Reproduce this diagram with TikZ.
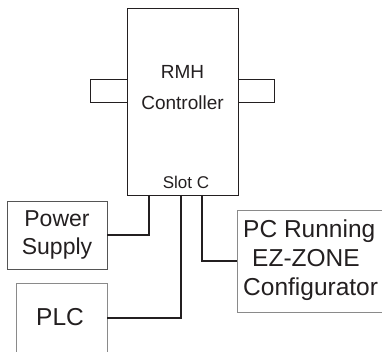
\documentclass[tikz,border=0pt]{standalone}
\usepackage{fontspec}
\setmainfont{Liberation Sans}
\definecolor{ink}{HTML}{231F20}
\definecolor{boxgray}{HTML}{8A8A8A}
\definecolor{boxdark}{HTML}{555555}
\begin{document}
\begin{tikzpicture}[x=1pt,y=-1pt,
  blk/.style={draw=ink,line width=0.9pt,inner sep=0pt,outer sep=0pt,anchor=north west},
  gbox/.style={draw=#1,line width=0.9pt,inner sep=0pt,outer sep=0pt,anchor=north west},
  wire/.style={draw=ink,line width=1.4pt},
  lbl/.style={text=ink,inner sep=0pt,align=center}]
\useasboundingbox (0,0) rectangle (382,352);
% controller and side tabs
\node[blk,minimum width=111pt,minimum height=187pt] (main) at (127,8) {};
\node[blk,minimum width=37pt,minimum height=23pt] (ltab) at (90,79) {};
\node[blk,minimum width=36pt,minimum height=23pt] (rtab) at (238,79) {};
\node[lbl,anchor=base,font=\fontsize{19}{31}\selectfont] (rmh) at (182.5,110) {RMH\\Controller};
\node[lbl,anchor=base,font=\fontsize{17}{20}\selectfont] (slot) at (186,189) {Slot C};
% peripheral boxes
\node[gbox=boxdark,minimum width=100pt,minimum height=68pt] (ps) at (7,201) {};
\node[lbl,font=\fontsize{23}{28}\selectfont] (pstxt) at (ps.center) {Power\\Supply};
\node[gbox=boxgray,minimum width=91pt,minimum height=70pt] (plc) at (16,283) {};
\node[lbl,anchor=base,font=\fontsize{24.5}{29}\selectfont] (plctxt) at (60,325) {PLC};
\node[gbox=boxgray,minimum width=150pt,minimum height=102pt] (pc) at (237,210) {};
\node[lbl,align=left,anchor=north west,font=\fontsize{24.5}{29}\selectfont] (pctxt) at (243,220) {PC Running\\\hspace*{9pt}EZ-ZONE\\Configurator};
% connectors
\draw[wire] ([xshift=22pt]main.south west) |- (ps.east);
\draw[wire] ([xshift=54pt]main.south west) |- (plc.east);
\draw[wire] ([xshift=75pt]main.south west) |- (pc.west);
\end{tikzpicture}
\end{document}
